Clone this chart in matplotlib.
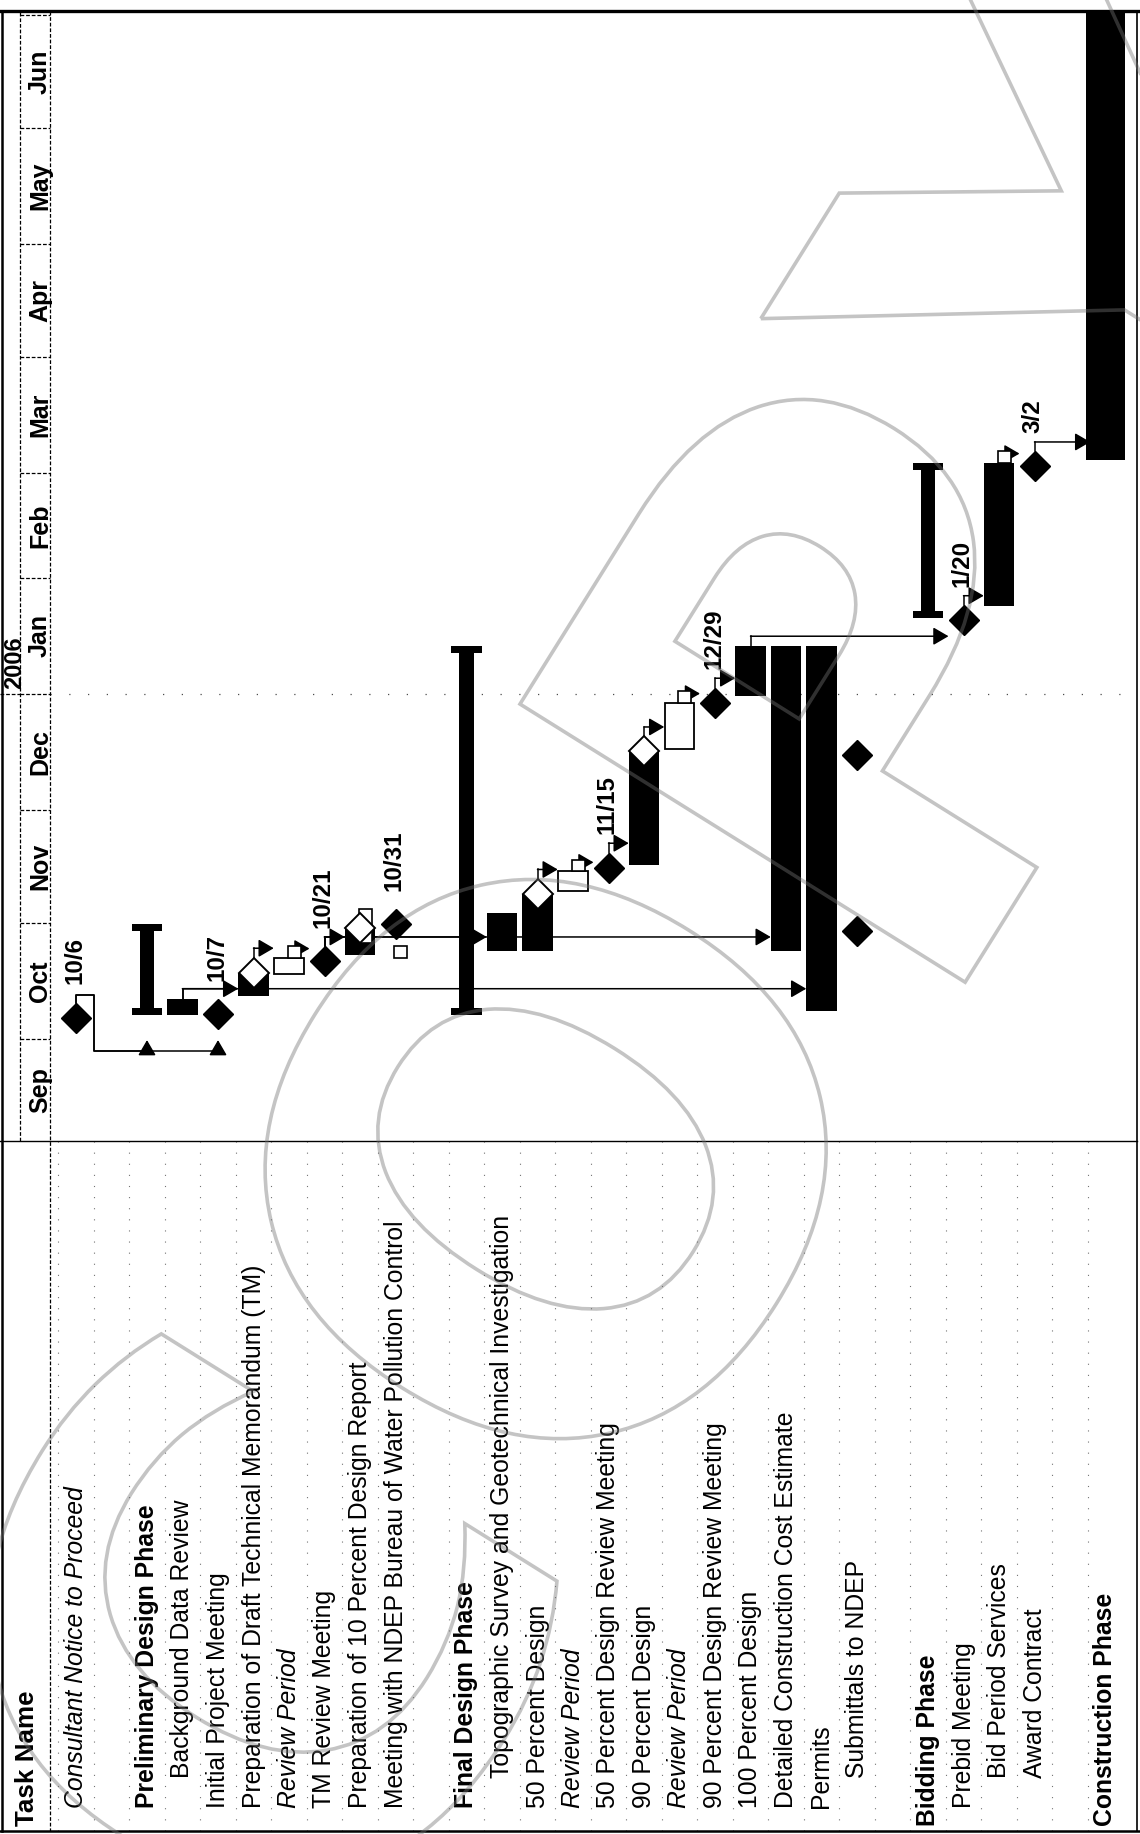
import datetime as dt

import matplotlib
matplotlib.use("Agg")
import matplotlib.pyplot as plt
import matplotlib.dates as mdates
from matplotlib.patches import Rectangle, PathPatch
from matplotlib.textpath import TextPath
from matplotlib.font_manager import FontProperties, fontManager
from matplotlib.transforms import Affine2D

# ---------------- data ----------------
# table rows (top to bottom in the original table; left to right on the rotated page)
task_names = [
    "Consultant Notice to Proceed", "",
    "Preliminary Design Phase", "Background Data Review", "Initial Project Meeting",
    "Preparation of Draft Technical Memorandum (TM)", "Review Period", "TM Review Meeting",
    "Preparation of 10 Percent Design Report",
    "Meeting with NDEP Bureau of Water Pollution Control", "",
    "Final Design Phase", "Topographic Survey and Geotechnical Investigation",
    "50 Percent Design", "Review Period", "50 Percent Design Review Meeting",
    "90 Percent Design", "Review Period", "90 Percent Design Review Meeting",
    "100 Percent Design", "Detailed Construction Cost Estimate", "Permits",
    "Submittals to NDEP", "",
    "Bidding Phase", "Prebid Meeting", "Bid Period Services", "Award Contract", "",
    "Construction Phase",
]
name_style = [
    "italic", "", "bold", "normal", "normal", "normal", "italic", "normal", "normal",
    "normal", "", "bold", "normal", "normal", "italic", "normal", "normal", "italic",
    "normal", "normal", "normal", "normal", "normal", "", "bold", "normal", "normal",
    "normal", "", "bold",
]
name_level = [1, 0, 1, 2, 1, 1, 1, 1, 1, 1, 0, 1, 2, 1, 1, 1, 1, 1, 1, 1, 1, 1, 2, 0,
              0, 1, 2, 2, 0, 0]

summary_rows = [2, 11, 24]
summary_start = ["2005-10-07", "2005-10-07", "2006-01-21"]
summary_end = ["2005-10-31", "2006-01-13", "2006-03-03"]

bar_rows = [3, 5, 8, 12, 13, 16, 19, 20, 21, 26, 29]
bar_start = ["2005-10-07", "2005-10-12", "2005-10-23", "2005-10-24", "2005-10-24",
             "2005-11-16", "2005-12-31", "2005-10-24", "2005-10-08", "2006-01-24",
             "2006-03-04"]
bar_end = ["2005-10-11", "2005-10-18", "2005-10-30", "2005-11-03", "2005-11-08",
           "2005-12-16", "2006-01-13", "2006-01-13", "2006-01-13", "2006-03-03",
           "2006-07-31"]
deliverable_rows = [5, 8, 13, 16]

review_rows = [6, 14, 17]
review_start = ["2005-10-18", "2005-11-09", "2005-12-17"]
review_end = ["2005-10-22", "2005-11-14", "2005-12-29"]

tab_rows = [6, 8, 9, 14, 17, 26]
tab_start = ["2005-10-22", "2005-10-26", "2005-10-22", "2005-11-14", "2005-12-29", "2006-03-03"]
tab_end = ["2005-10-25", "2005-11-04", "2005-10-25", "2005-11-17", "2006-01-01", "2006-03-06"]

milestone_rows = [0, 4, 7, 9, 15, 18, 22, 22, 25, 27]
milestone_dates = ["2005-10-06", "2005-10-07", "2005-10-21", "2005-10-31", "2005-11-15",
                   "2005-12-29", "2005-10-29", "2005-12-15", "2006-01-20", "2006-03-02"]
milestone_labels = ["10/6", "10/7", "10/21", "10/31", "11/15", "12/29", "", "", "1/20", "3/2"]

link_from = [3, 3, 5, 6, 7, 7, 7, 13, 14, 15, 16, 17, 18, 19, 25, 26, 27]
link_to = [5, 21, 6, 7, 8, 12, 20, 14, 15, 16, 17, 18, 19, 25, 26, 27, 29]
loop_from = 0
loop_to = [2, 4]

month_names = ["Sep", "Oct", "Nov", "Dec", "Jan", "Feb", "Mar", "Apr", "May", "Jun"]
month_starts = ["2005-09-01", "2005-10-01", "2005-11-01", "2005-12-01", "2006-01-01",
                "2006-02-01", "2006-03-01", "2006-04-01", "2006-05-01", "2006-06-01",
                "2006-07-01"]
year_label = "2006"
year_start = "2006-01-01"

# ---------------- layout ----------------
W, H = 1140, 1834
ROW0, ROW_W = 76.0, 35.5
JAN1_PX, DAY_PX = 694.0, 3.75
TOP, SPLIT, RIGHT, BOTTOM = 11, 1141, 1137, 1831

installed = {f.name for f in fontManager.ttflist}
NARROW, SHRINK = "Liberation Sans", 0.87
for fam, k in [("Liberation Sans Narrow", 1.0), ("Arial Narrow", 1.0)]:
    if fam in installed:
        NARROW, SHRINK = fam, k
        break
WIDE = "Liberation Sans"


def d(s, hour=0):
    return mdates.date2num(dt.datetime.fromisoformat(s)) + hour / 24.0


def xrow(px):
    return (px - ROW0) / ROW_W


JAN1 = d("2006-01-01")
date_lo = JAN1 - (SPLIT - JAN1_PX) / DAY_PX
date_hi = JAN1 + (JAN1_PX - TOP) / DAY_PX
DIA = 15 / DAY_PX          # half diamond, in days
DIA_X = 15 / ROW_W         # half diamond, in rows
HW = 0.43                  # half bar width, in rows

fig = plt.figure(figsize=(W / 100, H / 100), dpi=100)
ax = fig.add_axes([0, 1 - SPLIT / H, RIGHT / W, (SPLIT - TOP) / H])
ax.set_xlim(xrow(0), xrow(RIGHT))
ax.set_ylim(date_lo, date_hi)
ax.axis("off")

tb = fig.add_axes([0, 0, RIGHT / W, (H - SPLIT) / H])
tb.set_xlim(xrow(0), xrow(RIGHT))
tb.set_ylim(H, SPLIT)
tb.axis("off")

# ---- timescale header ----
for i, name in enumerate(month_names):
    lo = max(d(month_starts[i]), date_lo)
    hi = min(d(month_starts[i + 1]), date_hi)
    ax.text(xrow(40), (lo + hi) / 2, name, rotation=90, rotation_mode="anchor",
            ha="center", va="center", fontsize=18, fontweight="bold", family=WIDE)
for s in month_starts:
    if date_lo < d(s) < date_hi:
        ax.plot([xrow(20), xrow(50)], [d(s), d(s)], color="k", lw=0.9, ls=(0, (3, 1.5)))
ax.plot([xrow(0), xrow(20)], [d(year_start)] * 2, color="k", lw=0.9, ls=(0, (3, 1.5)))
ax.plot([xrow(50), xrow(RIGHT)], [d(year_start)] * 2, color="0.3", lw=0.9, ls=(0, (1, 14)))
ax.text(xrow(15), d(year_start) + 1.2, year_label, rotation=90, rotation_mode="anchor",
        ha="left", va="center", fontsize=17, fontweight="bold", family=WIDE)
ax.plot([xrow(20), xrow(20)], [date_lo, date_hi], color="k", lw=0.9, ls=(0, (3, 1.5)))


# ---- links (drawn under the bars) ----
def link(pts):
    xs, ys = zip(*pts)
    ax.plot(xs[:-1], ys[:-1], color="k", lw=1.1, zorder=1)
    ax.annotate("", xy=pts[-1], xytext=pts[-2], zorder=1,
                arrowprops=dict(arrowstyle="-|>,head_length=0.55,head_width=0.32",
                                mutation_scale=17, lw=1.1, color="k",
                                shrinkA=0, shrinkB=0))


mile_at = {}
for r, m in zip(milestone_rows, milestone_dates):
    mile_at.setdefault(r, d(m, 17))
bar_end_at = {r: d(e, 17) for r, e in zip(bar_rows, bar_end)}
tab_end_at = {r: d(e, 17) for r, e in zip(tab_rows, tab_end)}

for p, s in zip(link_from, link_to):
    tip = s - (DIA_X if s in mile_at else HW)
    if p in tab_end_at:
        y = tab_end_at[p] - 0.6
        link([(p + 0.33, y), (tip, y)])
    elif p in mile_at or p in deliverable_rows:
        c = mile_at.get(p, bar_end_at.get(p))
        lvl = c + DIA + 2.5
        link([(p, c + DIA), (p, lvl), (tip, lvl)])
    else:
        c = bar_end_at[p]
        lvl = c + 2.7
        link([(p, c), (p, lvl), (tip, lvl)])

c0 = mile_at[loop_from]
for s in loop_to:
    lo = c0 - 9
    link([(loop_from, c0 + DIA), (loop_from, c0 + DIA + 2.0), (loop_from + 0.5, c0 + DIA + 2.0),
          (loop_from + 0.5, lo), (s, lo), (s, lo + 3)])

# ---- bars ----
for r, s, e in zip(summary_rows, summary_start, summary_end):
    y0, y1 = d(s, 8), d(e, 17)
    cap = 7 / DAY_PX
    ax.add_patch(Rectangle((r - 0.21, y0), 0.42, y1 - y0, fc="k", ec="none", zorder=2))
    for yc in (y0, y1 - cap):
        ax.add_patch(Rectangle((r - 0.43, yc), 0.86, cap, fc="k", ec="none", zorder=2))

for r, s, e in zip(bar_rows, bar_start, bar_end):
    y0, y1 = d(s, 8), d(e, 17)
    hw = 0.55 if r == bar_rows[-1] else HW
    ax.add_patch(Rectangle((r - hw, y0), 2 * hw, y1 - y0, fc="k", ec="none", zorder=2))
    if r in deliverable_rows:
        ax.plot(r, y1, marker="D", ms=15, mfc="white", mec="k", mew=1.4, zorder=4)

for r, s, e in zip(review_rows, review_start, review_end):
    y0, y1 = d(s, 8), d(e, 17)
    ax.add_patch(Rectangle((r - 0.41, y0), 0.82, y1 - y0, fc="white", ec="k", lw=1.3, zorder=2))

for r, s, e in zip(tab_rows, tab_start, tab_end):
    y0, y1 = d(s, 17), d(e, 17)
    ax.add_patch(Rectangle((r - 0.03, y0), 0.36, y1 - y0, fc="white", ec="k", lw=1.2, zorder=2))

for r, m, lab in zip(milestone_rows, milestone_dates, milestone_labels):
    y = d(m, 17)
    ax.plot(r, y, marker="D", ms=15, color="k", zorder=4)
    if lab:
        ax.annotate(lab, (r, y), xytext=(-1, 24), textcoords="offset points",
                    rotation=90, rotation_mode="anchor", ha="left", va="center",
                    fontsize=20 * SHRINK, fontweight="bold", family=NARROW, zorder=5)

# ---- task table ----
start_px = {0: 1826, 1: 1808, 2: 1778}
tb.text(xrow(27), 1826, "Task Name", rotation=90, rotation_mode="anchor", ha="left",
        va="center", fontsize=21.5 * SHRINK, fontweight="bold", family=NARROW)
for r, (name, sty, lev) in enumerate(zip(task_names, name_style, name_level)):
    if not name:
        continue
    tb.text(r, start_px[lev], name, rotation=90, rotation_mode="anchor", ha="left",
            va="center", fontsize=20.5 * SHRINK, family=NARROW,
            fontweight="bold" if sty == "bold" else "normal",
            fontstyle="italic" if sty == "italic" else "normal")
for r in range(-1, len(task_names) - 1):
    tb.plot([r + 0.5, r + 0.5], [SPLIT, BOTTOM], color="0.45", lw=0.8, ls=(0, (1, 9)))

# ---- page frame and watermark ----
pg = fig.add_axes([0, 0, 1, 1])
pg.set_xlim(0, W)
pg.set_ylim(H, 0)
pg.axis("off")
pg.plot([0, W], [TOP, TOP], color="k", lw=2.4)
pg.plot([0, W], [BOTTOM, BOTTOM], color="k", lw=1.8)
pg.plot([1.5, 1.5], [TOP, BOTTOM], color="k", lw=1.8)
pg.plot([RIGHT, RIGHT], [TOP, BOTTOM], color="k", lw=1.2)
pg.plot([0, RIGHT], [SPLIT, SPLIT], color="k", lw=1.0)
pg.plot([50, 50], [TOP, BOTTOM], color="k", lw=0.9, ls=(0, (3, 1.5)))

tp = TextPath((0, 0), "COPY", size=1, prop=FontProperties(family="DejaVu Sans", weight="bold"))
bb = tp.get_extents()
wm = Affine2D().translate(-(bb.x0 + bb.x1) / 2, -(bb.y0 + bb.y1) / 2) \
    .scale(720, -720).rotate_deg(-58).translate(695, 920)
pg.add_patch(PathPatch(wm.transform_path(tp), fill=False, ec="0.45", lw=2.6,
                       alpha=0.42, zorder=20))

fig.savefig("out.png", dpi=100)
